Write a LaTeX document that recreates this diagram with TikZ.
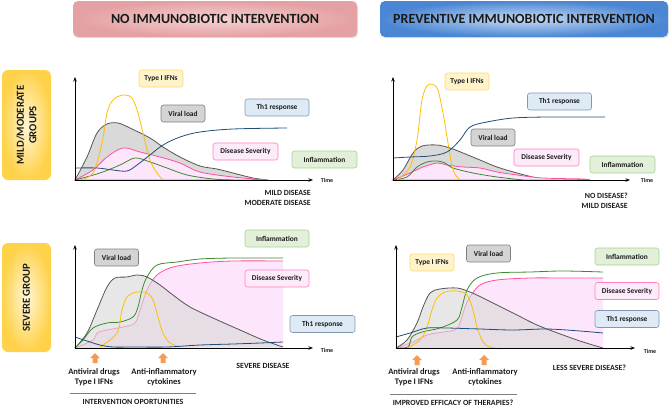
\documentclass[tikz,border=0pt]{standalone}
\usepackage{fontspec}
\setmainfont{Carlito}[BoldFont={Carlito Bold}]
\usetikzlibrary{arrows.meta,shadows}
\definecolor{gline}{HTML}{555555}
\definecolor{gfill}{HTML}{D9D9D9}
\definecolor{pline}{HTML}{FF4F9A}
\definecolor{pfill}{HTML}{FDE6FB}
\definecolor{grn}{HTML}{3C8A2C}
\definecolor{yel}{HTML}{FFBF00}
\definecolor{blu}{HTML}{1F4E79}
\definecolor{ifnfill}{HTML}{FFF3CC}
\definecolor{ifndraw}{HTML}{FFD966}
\definecolor{vlfill}{HTML}{D4D4D4}
\definecolor{vldraw}{HTML}{7F7F7F}
\definecolor{thfill}{HTML}{DEEBF7}
\definecolor{thdraw}{HTML}{8497B0}
\definecolor{dsfill}{HTML}{FDEBFA}
\definecolor{dsdraw}{HTML}{FF7FBF}
\definecolor{infill}{HTML}{E2F0D9}
\definecolor{indraw}{HTML}{A9D18E}
\definecolor{hpinkout}{HTML}{E4A0A2}
\definecolor{hpinkin}{HTML}{F6D2D2}
\definecolor{hblueout}{HTML}{4A86D4}
\definecolor{hbluein}{HTML}{C8DCF3}
\definecolor{syelout}{HTML}{FFD24A}
\definecolor{syelin}{HTML}{FFF6D6}
\definecolor{arrfill}{HTML}{F89B52}
\definecolor{txt}{HTML}{1A1A1A}
\newcommand\myuparrow[2]{\fill[arrfill] (#1,#2) -- ++(5,5) -- ++(-2.5,0) -- ++(0,5) -- ++(-5,0) -- ++(0,-5) -- ++(-2.5,0) -- cycle;}
\begin{document}
\begin{tikzpicture}[x=1pt,y=-1pt,
  lblbox/.style={draw, rounded corners=2.5pt, line width=0.6pt, text=txt,
    font=\bfseries\fontsize{7.4}{8}\selectfont, minimum height=17pt, inner sep=1pt},
  ifnbox/.style={lblbox, fill=ifnfill, draw=ifndraw, minimum width=44pt},
  vlbox/.style={lblbox, fill=vlfill, draw=vldraw, minimum width=44pt},
  thbox/.style={lblbox, fill=thfill, draw=thdraw, minimum width=64pt},
  dsbox/.style={lblbox, fill=dsfill, draw=dsdraw, minimum width=65pt},
  inbox/.style={lblbox, fill=infill, draw=indraw, minimum width=65pt},
  hdr/.style={rounded corners=5pt, text=txt, font=\bfseries\fontsize{14}{16}\selectfont,
    minimum height=36pt, drop shadow={shadow xshift=1pt, shadow yshift=-1.2pt, opacity=0.25}},
  sidebox/.style={rounded corners=6pt, text=txt, inner color=syelin, outer color=syelout,
    font=\bfseries\fontsize{10.7}{12.5}\selectfont, align=center, rotate=90, minimum height=49pt},
  outtxt/.style={text=txt, font=\bfseries\fontsize{7.9}{9}\selectfont, inner sep=0pt},
  timetxt/.style={text=txt, font=\bfseries\fontsize{6}{7}\selectfont, inner sep=0pt},
  drugtxt/.style={text=txt, font=\bfseries\fontsize{8.5}{10}\selectfont, align=center, inner sep=0pt},
  axisline/.style={line width=0.9pt, black, -{Stealth[length=4.5pt,width=3.5pt]}},
  crv/.style={line width=0.8pt, smooth, tension=0.55},
  sepline/.style={line width=0.6pt, vldraw}
]
\useasboundingbox (0,0) rectangle (669,407);

% headers
\node[hdr, inner color=hpinkin, outer color=hpinkout, minimum width=284pt] (h1) at (215,19) {NO IMMUNOBIOTIC INTERVENTION};
\node[hdr, inner color=hbluein, outer color=hblueout, minimum width=288pt] (h2) at (524,19) {PREVENTIVE IMMUNOBIOTIC INTERVENTION};

% side boxes
\node[sidebox, minimum width=110pt] (s1) at (26.5,125) {MILD/MODERATE\\GROUPS};
\node[sidebox, minimum width=109pt] (s2) at (26.5,297.5) {SEVERE GROUP};

% ===== Top-left chart =====
\draw[crv, gline, fill=gfill] plot[smooth, tension=0.55] coordinates {(75,180)(87,157)(97,133)(107,124)(118,123)(130,128)(150,138)(163,147)(180,157)(200,166)(217,169)(233,173)(253,178)(268,180)} -- cycle;
\draw[crv, pline, fill=pfill] plot[smooth, tension=0.55] coordinates {(75,180)(93,170)(107,157)(123,148)(140,152)(160,157)(180,163)(200,172)(233,177)(267,180)} -- cycle;
\draw[crv, grn] plot[smooth, tension=0.55] coordinates {(75,180)(100,173)(120,165)(135,158)(150,162)(167,168)(187,175)(213,179)(233,180)};
\draw[crv, yel] plot[smooth, tension=0.55] coordinates {(80,180)(93,173)(102,143)(107,113)(113,100)(123,95)(132,98)(138,113)(143,133)(150,160)(157,173)(163,180)};
\draw[crv, blu] plot[smooth, tension=0.55] coordinates {(75,168)(97,168)(113,170)(127,171)(137,165)(150,155)(163,145)(180,137)(200,132)(233,129)(287,128)};
\coordinate (o1) at (75,180);
\coordinate (y1) at (75,77);
\coordinate (x1) at (313,180);
\draw[axisline] (o1) -- (y1);
\draw[axisline] (o1) -- (x1);
\node[timetxt] (t1) at (327,180.5) {Time};
\node[ifnbox] (a1) at (161,78.5) {Type I IFNs};
\node[vlbox] (b1) at (183,113.5) {Viral load};
\node[thbox] (c1) at (277,107.5) {Th1 response};
\node[dsbox] (d1) at (245.5,151.5) {Disease Severity};
\node[inbox] (e1) at (324.5,159.5) {Inflammation};
\node[outtxt, anchor=east] (m1) at (311,193) {MILD DISEASE};
\node[outtxt, anchor=east] (m2) at (311,203) {MODERATE DISEASE};

% ===== Top-right chart =====
\draw[crv, gline, fill=gfill] plot[smooth, tension=0.55] coordinates {(393,180)(403,170)(413,153)(422,146)(437,145)(450,148)(463,153)(480,160)(497,167)(517,173)(537,178)(550,180)} -- cycle;
\draw[crv, pline, fill=pfill] plot[smooth, tension=0.55] coordinates {(393,180)(410,173)(423,167)(437,163)(447,165)(463,167)(480,168)(497,172)(517,175)(543,178)(583,179)(590,180)} -- cycle;
\draw[crv, grn] plot[smooth, tension=0.55] coordinates {(393,180)(407,177)(417,167)(427,162)(437,161)(445,163)(453,168)(473,173)(497,177)(523,180)};
\draw[crv, yel] plot[smooth, tension=0.55] coordinates {(397,180)(410,167)(417,140)(422,100)(428,85)(437,88)(443,113)(448,143)(453,170)(460,180)};
\draw[crv, blu] plot[smooth, tension=0.55] coordinates {(393,158)(410,157)(430,156)(447,152)(460,140)(470,127)(487,122)(513,118)(547,117)(573,117)(605,117)};
\coordinate (o2) at (393,180);
\coordinate (y2) at (393,77);
\coordinate (x2) at (630,180);
\draw[axisline] (o2) -- (y2);
\draw[axisline] (o2) -- (x2);
\node[timetxt] (t2) at (647,180.5) {Time};
\node[ifnbox] (a2) at (467,81.5) {Type I IFNs};
\node[thbox] (c2) at (559.5,101.5) {Th1 response};
\node[vlbox] (b2) at (493,137.5) {Viral load};
\node[dsbox] (d2) at (546.5,157.5) {Disease Severity};
\node[inbox] (e2) at (622.5,164.5) {Inflammation};
\node[outtxt, anchor=east] (m3) at (628,196) {NO DISEASE?};
\node[outtxt, anchor=east] (m4) at (628,206) {MILD DISEASE};

% ===== Bottom-left chart =====
\fill[pfill] plot[smooth, tension=0.55] coordinates {(75,348)(93,340)(97,333)(107,330)(123,327)(135,323)(140,310)(147,290)(157,275)(173,267)(200,263)(233,261)(283,261)} -- (283,348) -- cycle;
\draw[crv, pline] plot[smooth, tension=0.55] coordinates {(75,348)(93,340)(97,333)(107,330)(123,327)(135,323)(140,310)(147,290)(157,275)(173,267)(200,263)(233,261)(283,261)};
\fill[gfill, opacity=0.62] plot[smooth, tension=0.55] coordinates {(75,348)(87,333)(97,310)(107,287)(115,278)(127,277)(137,275)(147,277)(160,285)(173,295)(190,307)(213,318)(240,330)(263,340)(283,347)} -- cycle;
\draw[crv, gline] plot[smooth, tension=0.55] coordinates {(75,348)(87,333)(97,310)(107,287)(115,278)(127,277)(137,275)(147,277)(160,285)(173,295)(190,307)(213,318)(240,330)(263,340)(283,347)};
\draw[crv, grn] plot[smooth, tension=0.55] coordinates {(75,348)(83,340)(93,328)(107,323)(120,322)(133,317)(138,307)(142,290)(147,277)(157,265)(177,262)(200,259)(233,258)(283,258)};
\draw[crv, yel] plot[smooth, tension=0.55] coordinates {(100,347)(117,333)(122,310)(127,297)(137,292)(147,293)(153,300)(158,317)(163,333)(170,343)(180,347)};
\draw[crv, blu] plot[smooth, tension=0.55] coordinates {(75,337)(87,341)(100,345)(113,347)(133,347)(167,347)(200,345)(233,344)(260,343)(283,342)};
\coordinate (o3) at (75,348);
\coordinate (y3) at (75,245);
\coordinate (x3) at (313,348);
\draw[axisline] (o3) -- (y3);
\draw[axisline] (o3) -- (x3);
\node[timetxt] (t3) at (327,350) {Time};
\node[vlbox] (b3) at (116.5,257.5) {Viral load};
\node[inbox, minimum width=64pt] (e3) at (277,238.5) {Inflammation};
\node[dsbox, minimum width=64pt] (d3) at (277,278.5) {Disease Severity};
\node[thbox, minimum width=65pt] (c3) at (322.5,324) {Th1 response};
\node[outtxt] (m5) at (263,366) {SEVERE DISEASE};
\myuparrow{95}{353}
\myuparrow{163}{353}
\node[drugtxt] (g1) at (94,377) {Antiviral drugs\\Type I IFNs};
\node[drugtxt] (g2) at (164,377) {Anti-inflammatory\\cytokines};
\coordinate (l1a) at (70,393);
\coordinate (l1b) at (196,393);
\draw[sepline] (l1a) -- (l1b);
\node[outtxt] (i1) at (133,402) {INTERVENTION OPORTUNITIES};

% ===== Bottom-right chart =====
\fill[pfill] plot[smooth, tension=0.55] coordinates {(396,348)(413,342)(427,335)(443,332)(455,330)(460,323)(465,307)(470,297)(480,285)(497,280)(530,278)(563,278)(603,278)} -- (603,348) -- cycle;
\draw[crv, pline] plot[smooth, tension=0.55] coordinates {(396,348)(413,342)(427,335)(443,332)(455,330)(460,323)(465,307)(470,297)(480,285)(497,280)(530,278)(563,278)(603,278)};
\fill[gfill, opacity=0.62] plot[smooth, tension=0.55] coordinates {(396,348)(407,340)(417,323)(423,307)(430,293)(440,289)(457,288)(470,292)(483,298)(497,305)(517,315)(537,325)(563,335)(583,342)(603,348)} -- cycle;
\draw[crv, gline] plot[smooth, tension=0.55] coordinates {(396,348)(407,340)(417,323)(423,307)(430,293)(440,289)(457,288)(470,292)(483,298)(497,305)(517,315)(537,325)(563,335)(583,342)(603,348)};
\draw[crv, grn] plot[smooth, tension=0.55] coordinates {(396,348)(408,347)(412,337)(422,332)(440,328)(457,320)(462,307)(467,290)(477,278)(497,273)(530,272)(563,271)(603,272)};
\draw[crv, yel] plot[smooth, tension=0.55] coordinates {(407,348)(420,340)(427,327)(432,310)(437,298)(445,292)(457,291)(467,295)(473,310)(477,327)(483,342)(490,347)(500,349)};
\draw[crv, blu] plot[smooth, tension=0.55] coordinates {(396,337)(410,333)(427,328)(447,328)(480,329)(513,330)(547,329)(580,331)(603,333)};
\coordinate (o4) at (396,348);
\coordinate (y4) at (396,245);
\coordinate (x4) at (635,348);
\draw[axisline] (o4) -- (y4);
\draw[axisline] (o4) -- (x4);
\node[timetxt] (t4) at (650,351) {Time};
\node[vlbox] (b4) at (488.5,253.5) {Viral load};
\node[ifnbox] (a4) at (432,262.5) {Type I IFNs};
\node[inbox, minimum width=64pt] (e4) at (627,256.5) {Inflammation};
\node[dsbox, minimum width=64pt] (d4) at (627,291) {Disease Severity};
\node[thbox] (c4) at (627,319) {Th1 response};
\node[outtxt] (m6) at (589.5,368) {LESS SEVERE DISEASE?};
\myuparrow{417}{355}
\myuparrow{484}{355}
\node[drugtxt] (g3) at (414,377.5) {Antiviral drugs\\Type I IFNs};
\node[drugtxt] (g4) at (485,377.5) {Anti-inflammatory\\cytokines};
\coordinate (l2a) at (390,394);
\coordinate (l2b) at (517,394);
\draw[sepline] (l2a) -- (l2b);
\node[outtxt] (i2) at (453,403) {IMPROVED EFFICACY OF THERAPIES?};
\end{tikzpicture}
\end{document}
